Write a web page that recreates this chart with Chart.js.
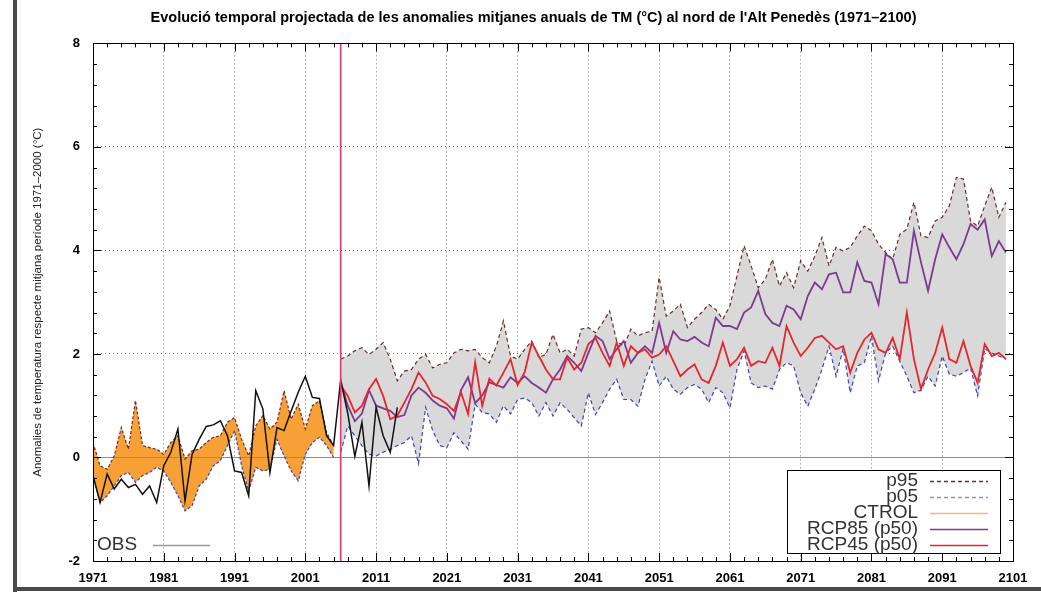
<!DOCTYPE html>
<html>
<head>
<meta charset="utf-8">
<script src="https://cdn.jsdelivr.net/npm/chart.js@4.4.1/dist/chart.umd.min.js"></script>
<style>
  body { margin: 0; background: #fff; }
  canvas { display: block; }
</style>
</head>
<body>
<canvas id="chart" width="1041" height="599"></canvas>
<script>
const chartTitle = "Evolució temporal projectada de les anomalies mitjanes anuals de TM (°C) al nord de l'Alt Penedès (1971–2100)";
const yTitle = "Anomalies de temperatura respecte mitjana període 1971–2000 (°C)";

const xTickYears = [1971, 1981, 1991, 2001, 2011, 2021, 2031, 2041, 2051, 2061, 2071, 2081, 2091, 2101];
const scenarioStart = 2006;

// observacions 1971-2014
const obsStart = 1971;
const obsValues = [
  -0.35, -0.87, -0.32, -0.61, -0.42, -0.58, -0.52, -0.71, -0.55, -0.87,
  -0.16, 0.10, 0.55, -0.84, 0.06, 0.35, 0.60, 0.63, 0.71, 0.42,
  -0.26, -0.29, -0.74, 1.29, 0.94, -0.29, 0.58, 0.52, 0.90, 1.26,
  1.57, 1.16, 1.14, 0.42, 0.23, 1.50, 0.85, 0.02, 0.68, -0.55,
  0.97, 0.42, 0.10, 0.97
];

// control 1971-2005
const ctrlStart = 1971;
const ctrlP95 = [
  0.29, -0.16, -0.23, 0.03, 0.58, 0.16, 1.10, 0.23, 0.19, 0.16,
  0.06, 0.29, 0.42, -0.03, 0.13, 0.16, 0.29, 0.39, 0.42, 0.68,
  0.77, 0.35, 0.03, 0.61, 0.81, 0.55, 0.68, 1.29, 0.74, 1.03,
  0.55, 1.00, 1.10, 0.48, 0.23
];
const ctrlP05 = [
  -0.35, -0.87, -0.74, -0.55, -0.35, -0.29, -0.48, -0.35, -0.29, -0.19,
  -0.26, -0.48, -0.74, -1.03, -0.93, -0.55, -0.42, -0.16, -0.06, 0.23,
  0.52, -0.16, -0.65, -0.19, -0.26, -0.23, 0.35, 0.03, -0.26, -0.45,
  0.06, 0.29, 0.39, 0.23, 0.00
];

// escenaris 2006-2100
const projStart = 2006;
const projP95 = [
  1.90, 1.96, 2.06, 2.12, 1.99, 2.09, 2.22, 1.90, 1.48, 1.67,
  1.70, 1.90, 1.99, 1.73, 1.80, 1.83, 2.02, 2.09, 2.06, 2.09,
  1.93, 1.83, 2.15, 2.64, 1.96, 1.90, 2.09, 2.25, 1.93, 1.99,
  2.38, 2.02, 2.09, 1.96, 2.48, 2.51, 2.41, 2.60, 2.83, 2.25,
  2.15, 2.48, 2.35, 2.41, 2.44, 3.48, 2.73, 2.83, 2.96, 2.51,
  2.67, 2.80, 2.96, 2.86, 2.67, 2.93, 3.51, 4.09, 3.70, 3.28,
  3.44, 3.83, 3.31, 3.57, 3.28, 3.80, 3.60, 3.89, 4.25, 3.70,
  4.06, 3.99, 4.06, 4.28, 4.47, 4.38, 4.12, 3.96, 3.83, 4.31,
  4.41, 4.93, 4.28, 4.25, 4.57, 4.64, 4.86, 5.41, 5.38, 4.57,
  4.47, 4.86, 5.22, 4.64, 4.93
];
const projP05 = [
  0.10, 0.61, 0.42, 0.23, 0.06, 0.03, 0.10, 0.16, 0.23, 0.29,
  0.42, -0.12, 0.97, 0.52, 0.23, 0.19, 0.48, 0.32, 0.16, 1.03,
  0.87, 0.84, 0.68, 1.00, 0.84, 1.12, 1.15, 1.06, 0.80, 1.06,
  0.80, 1.06, 0.93, 0.77, 0.61, 1.25, 0.83, 1.06, 1.32, 1.51,
  1.12, 1.12, 0.99, 1.51, 1.86, 1.38, 1.57, 1.32, 1.22, 1.35,
  1.41, 1.32, 1.06, 1.35, 1.25, 0.96, 1.70, 2.06, 1.44, 1.35,
  1.38, 1.32, 1.70, 1.83, 1.77, 1.25, 0.99, 1.32, 1.70, 2.15,
  1.57, 2.10, 1.25, 1.77, 1.83, 2.35, 1.48, 2.02, 2.15, 1.86,
  1.57, 1.25, 1.30, 1.57, 1.38, 1.96, 1.61, 1.57, 1.64, 1.73,
  1.19, 2.10, 2.02, 1.96, 1.90
];
const rcp85 = [
  1.45, 1.00, 0.70, 0.85, 1.30, 1.00, 0.95, 0.90, 0.78, 0.82,
  1.20, 1.35, 1.25, 1.10, 1.00, 0.95, 0.75, 1.30, 1.55, 1.05,
  1.20, 1.45, 1.40, 1.35, 1.55, 1.44, 1.57, 1.44, 1.35, 1.25,
  1.51, 1.70, 1.96, 1.83, 1.67, 2.02, 2.35, 2.25, 1.90, 2.09,
  2.25, 1.83, 2.02, 2.15, 2.02, 2.60, 2.02, 2.44, 2.28, 2.25,
  2.33, 2.22, 2.15, 2.70, 2.54, 2.54, 2.48, 2.80, 2.90, 3.22,
  2.77, 2.60, 2.54, 2.93, 2.86, 2.67, 3.12, 3.38, 3.25, 3.54,
  3.57, 3.19, 3.19, 3.77, 3.41, 3.38, 2.96, 3.93, 3.83, 3.38,
  3.38, 4.38, 3.77, 3.22, 3.83, 4.31, 4.06, 3.83, 4.12, 4.51,
  4.40, 4.60, 3.89, 4.18, 3.96
];
const rcp45 = [
  1.39, 1.19, 0.87, 1.00, 1.32, 1.52, 1.19, 0.74, 0.81, 1.06,
  1.32, 1.64, 1.45, 1.19, 1.13, 1.03, 0.90, 1.26, 0.84, 1.84,
  1.00, 1.52, 1.39, 1.64, 1.90, 1.40, 1.65, 2.22, 1.96, 1.70,
  1.51, 1.51, 1.93, 1.70, 1.83, 2.19, 2.31, 2.02, 1.77, 2.22,
  1.77, 2.15, 2.02, 2.09, 1.93, 1.99, 2.15, 1.86, 1.57, 1.70,
  1.80, 1.51, 1.44, 1.77, 2.22, 1.77, 1.90, 2.12, 1.77, 1.86,
  1.83, 2.12, 1.77, 2.54, 2.22, 1.96, 2.12, 2.31, 2.35, 2.22,
  2.09, 2.15, 1.64, 2.02, 2.28, 2.41, 2.09, 2.02, 2.31, 1.90,
  2.80, 1.90, 1.32, 1.70, 2.02, 2.51, 1.90, 1.83, 2.25, 1.77,
  1.44, 2.19, 1.96, 2.02, 1.90
];

const p95Color = "#6e2c2c";
const p05Color = "#3c44c0";
const ctrlFill = "#f7a035";
const grayFill = "#d9d9d9";
const rcp85Color = "#7e3a90";
const rcp45Color = "#e5262d";
const fontFamily = '"Liberation Sans", Arial, sans-serif';

const toPoints = (start, values) => values.map((v, i) => ({ x: start + i, y: v }));

const legendItems = [
  { label: "p95", color: p95Color, dash: [4, 3] },
  { label: "p05", color: "#8a90d8", dash: [4, 3] },
  { label: "CTROL", color: "#f6b878", dash: [] },
  { label: "RCP85 (p50)", color: rcp85Color, dash: [] },
  { label: "RCP45 (p50)", color: rcp45Color, dash: [] },
];

const gnuplotLook = {
  id: "gnuplotLook",
  beforeDatasetsDraw(chart) {
    const { ctx, chartArea: a, scales: { y } } = chart;
    const y0 = Math.round(y.getPixelForValue(0)) + 0.5;
    ctx.save();
    ctx.strokeStyle = "#8c8c8c";
    ctx.lineWidth = 1;
    ctx.beginPath();
    ctx.moveTo(a.left, y0);
    ctx.lineTo(a.right, y0);
    ctx.stroke();
    ctx.restore();
  },
  afterDraw(chart) {
    const { ctx, chartArea: a, scales: { x, y } } = chart;
    ctx.save();

    // ticks cap a dins, com el gnuplot
    ctx.strokeStyle = "#000";
    ctx.lineWidth = 1;
    ctx.beginPath();
    for (let yr = 1971; yr <= 2101; yr += 2) {
      const len = (yr - 1971) % 10 === 0 ? 8 : 4;
      const px = Math.round(x.getPixelForValue(yr)) + 0.5;
      ctx.moveTo(px, a.bottom); ctx.lineTo(px, a.bottom - len);
      ctx.moveTo(px, a.top); ctx.lineTo(px, a.top + len);
    }
    for (let k = 0; k <= 25; k++) {
      const len = k % 5 === 0 ? 8 : 4;
      const py = Math.round(y.getPixelForValue(-2 + k * 0.4)) + 0.5;
      ctx.moveTo(a.left, py); ctx.lineTo(a.left + len, py);
      ctx.moveTo(a.right, py); ctx.lineTo(a.right - len, py);
    }
    ctx.stroke();
    ctx.strokeRect(Math.round(a.left) + 0.5, Math.round(a.top) + 0.5,
      Math.round(a.right - a.left), Math.round(a.bottom - a.top));

    // llegenda
    const bx = a.right - 226, by = a.bottom - 91, bw = 213, bh = 83;
    ctx.fillStyle = "#fff";
    ctx.fillRect(bx, by, bw, bh);
    ctx.strokeStyle = "#000";
    ctx.strokeRect(bx + 0.5, by + 0.5, bw, bh);
    ctx.font = "19px " + fontFamily;
    ctx.textAlign = "right";
    ctx.textBaseline = "middle";
    legendItems.forEach((item, i) => {
      const ry = by + 11 + i * 16;
      ctx.fillStyle = "#333";
      ctx.fillText(item.label, bx + 131, ry);
      ctx.strokeStyle = item.color;
      ctx.lineWidth = 1.5;
      ctx.setLineDash(item.dash);
      ctx.beginPath();
      ctx.moveTo(bx + 143, ry + 0.5);
      ctx.lineTo(bx + 201, ry + 0.5);
      ctx.stroke();
      ctx.setLineDash([]);
    });

    // OBS
    ctx.textAlign = "left";
    ctx.fillStyle = "#333";
    ctx.fillText("OBS", a.left + 4, a.bottom - 16);
    ctx.strokeStyle = "#999";
    ctx.lineWidth = 1.5;
    ctx.beginPath();
    ctx.moveTo(a.left + 60, a.bottom - 15.5);
    ctx.lineTo(a.left + 117, a.bottom - 15.5);
    ctx.stroke();

    // marc de la figura
    ctx.fillStyle = "#4a4a4a";
    ctx.fillRect(13, 0, 4, 592);
    ctx.fillRect(13, 587, 1028, 4);
    ctx.restore();
  },
};

const lineStyle = { pointRadius: 0, tension: 0, borderWidth: 1.2 };

new Chart(document.getElementById("chart"), {
  type: "line",
  plugins: [gnuplotLook],
  data: {
    datasets: [
      { ...lineStyle, label: "inici escenaris", data: [{ x: scenarioStart, y: -2 }, { x: scenarioStart, y: 8 }], borderColor: "#ea3a6a", borderWidth: 1.6 },
      { ...lineStyle, label: "OBS", data: toPoints(obsStart, obsValues), borderColor: "#111", borderWidth: 1.5 },
      { ...lineStyle, label: "RCP45 (p50)", data: toPoints(projStart, rcp45), borderColor: rcp45Color, borderWidth: 1.8 },
      { ...lineStyle, label: "RCP85 (p50)", data: toPoints(projStart, rcp85), borderColor: rcp85Color, borderWidth: 1.8 },
      { ...lineStyle, label: "p95", data: toPoints(projStart, projP95), borderColor: p95Color, borderDash: [4, 3], fill: 5, backgroundColor: grayFill },
      { ...lineStyle, label: "p05", data: toPoints(projStart, projP05), borderColor: p05Color, borderDash: [4, 3] },
      { ...lineStyle, label: "CTROL p95", data: toPoints(ctrlStart, ctrlP95), borderColor: p95Color, borderDash: [3, 2], fill: 7, backgroundColor: ctrlFill },
      { ...lineStyle, label: "CTROL p05", data: toPoints(ctrlStart, ctrlP05), borderColor: p05Color, borderDash: [3, 2] },
    ],
  },
  options: {
    responsive: false,
    animation: false,
    layout: { padding: { left: 26, right: 0, top: 0, bottom: 0 } },
    plugins: {
      legend: { display: false },
      tooltip: { enabled: false },
      filler: { drawTime: "beforeDatasetsDraw" },
      title: {
        display: true,
        text: chartTitle,
        color: "#000",
        font: { family: fontFamily, size: 14.5, weight: "bold" },
        padding: { top: 9, bottom: 17 },
      },
    },
    scales: {
      x: {
        type: "linear",
        min: 1971,
        max: 2101,
        afterBuildTicks: (s) => { s.ticks = xTickYears.map((v) => ({ value: v })); },
        afterFit: (s) => { s.height = 38; s.paddingRight = 28; },
        grid: { color: "#777", drawTicks: false },
        border: { display: false, dash: [1, 3] },
        ticks: { color: "#000", padding: 10, maxRotation: 0, autoSkip: false, font: { family: fontFamily, size: 13, weight: "bold" }, callback: (v) => String(v) },
      },
      y: {
        min: -2,
        max: 8,
        afterFit: (s) => { s.width = 67; },
        grid: { color: "#777", drawTicks: false },
        border: { display: false, dash: [1, 3] },
        ticks: { stepSize: 2, color: "#000", padding: 13, font: { family: fontFamily, size: 13, weight: "bold" } },
        title: { display: true, text: yTitle, color: "#222", padding: { top: 5, bottom: 0 }, font: { family: fontFamily, size: 11.5 } },
      },
    },
  },
});
</script>
</body>
</html>
